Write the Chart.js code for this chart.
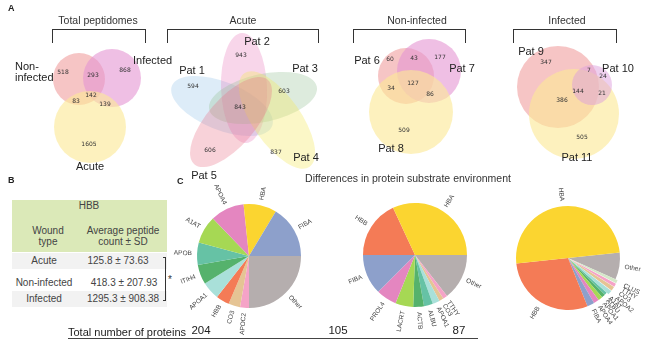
<!DOCTYPE html>
<html>
<head>
<meta charset="utf-8">
<script src="https://cdn.jsdelivr.net/npm/chart.js@4.4.0/dist/chart.umd.min.js"></script>
<style>
  html, body { margin: 0; padding: 0; background: #fff; }
  body { width: 650px; height: 353px; position: relative; overflow: hidden;
         font-family: "Liberation Sans", Arial, sans-serif; color: #333; }
  canvas { position: absolute; }
  .t { position: absolute; white-space: nowrap; line-height: 1; }
  .c { transform: translate(-50%, -50%); }
  .l { transform: translate(0, -50%); }
  .panel { font-weight: bold; font-size: 9px; color: #222; }
  .title { font-size: 10.5px; }
  .set { font-size: 11px; color: #222; }
  .bracket { position: absolute; top: 29px; height: 13px; border: 1.4px solid #333; border-bottom: none; }
  .row { position: absolute; left: 12px; width: 155px; }
  .tb { font-size: 10px; color: #444; }
</style>
</head>
<body>
<canvas id="venn" width="650" height="170" style="left:0;top:0"></canvas>

<div class="t panel" style="left:8px;top:4px">A</div>
<div class="t title c" style="left:98px;top:20px">Total peptidomes</div>
<div class="bracket" style="left:52px;width:92px"></div>
<div class="t title c" style="left:243px;top:20px">Acute</div>
<div class="bracket" style="left:167px;width:150px"></div>
<div class="t title c" style="left:417px;top:20px">Non-infected</div>
<div class="bracket" style="left:353px;width:111px"></div>
<div class="t title c" style="left:567px;top:20px">Infected</div>
<div class="bracket" style="left:513px;width:102px"></div>

<div class="t set l" style="left:15px;top:66px">Non-</div>
<div class="t set l" style="left:15px;top:77px">infected</div>
<div class="t set l" style="left:133px;top:60px">Infected</div>
<div class="t set c" style="left:90px;top:166px">Acute</div>

<div class="t set c" style="left:192px;top:70px">Pat 1</div>
<div class="t set c" style="left:257px;top:41px">Pat 2</div>
<div class="t set c" style="left:305px;top:68px">Pat 3</div>
<div class="t set c" style="left:306px;top:157px">Pat 4</div>
<div class="t set c" style="left:204px;top:175px">Pat 5</div>

<div class="t set c" style="left:367px;top:60px">Pat 6</div>
<div class="t set c" style="left:462px;top:68px">Pat 7</div>
<div class="t set c" style="left:391px;top:148px">Pat 8</div>

<div class="t set c" style="left:531px;top:51px">Pat 9</div>
<div class="t set c" style="left:618px;top:68px">Pat 10</div>
<div class="t set c" style="left:577px;top:157px">Pat 11</div>

<div class="t panel" style="left:8px;top:176px">B</div>
<div class="row" style="top:200px;height:52px;background:#dbe9b8"></div>
<div class="row" style="top:253px;height:16px;background:#f2f2f2"></div>
<div class="row" style="top:291px;height:16px;background:#f2f2f2"></div>
<div class="t tb c" style="left:89px;top:206px">HBB</div>
<div class="t tb c" style="left:48px;top:231px">Wound</div>
<div class="t tb c" style="left:48px;top:242px">type</div>
<div class="t tb c" style="left:123px;top:231px">Average peptide</div>
<div class="t tb c" style="left:123px;top:242px">count ± SD</div>
<div id="tableRows"></div>
<div style="position:absolute;left:163px;top:257px;width:2px;height:42px;border:1.2px solid #333;border-left:none"></div>
<div class="t c" style="left:170px;top:280px;font-size:10px">*</div>

<div class="t panel" style="left:177px;top:177px">C</div>
<div class="t title c" style="left:408px;top:178px">Differences in protein substrate environment</div>

<canvas id="pie1" width="200" height="190" style="left:149px;top:161px"></canvas>
<canvas id="pie2" width="200" height="190" style="left:315px;top:160px"></canvas>
<canvas id="pie3" width="200" height="190" style="left:468px;top:163px"></canvas>

<div class="t l" style="left:68px;top:332px;font-size:11px;color:#222">Total number of proteins</div>
<div id="totals"></div>
<div style="position:absolute;left:68px;top:338px;width:410px;height:0;border-top:1.5px solid #444"></div>

<script>
// --- data: panel A, Venn region counts ---
const vennTotalCounts = [518, 293, 868, 142, 83, 139, 1605];
const vennAcuteCounts = [943, 594, 603, 843, 606, 837];
const vennNonInfCounts = [60, 43, 177, 127, 34, 86, 509];
const vennInfCounts = [347, 7, 24, 144, 21, 386, 505];

// --- data: panel B, HBB peptide counts ---
const woundTypes = ['Acute', 'Non-infected', 'Infected'];
const hbbMean = [125.8, 418.3, 1295.3];
const hbbSD = [73.63, 207.93, 908.38];

const acuteProteins = ['FIBA', 'HBA', 'APOA4', 'A1AT', 'APOB', 'ITIH4', 'APOA1', 'HBB', 'CO3', 'APOC2', 'Other'];
const acuteShares = [59, 37, 38, 31, 25, 22, 20, 15, 13, 10, 90];
const nonInfProteins = ['HBA', 'HBB', 'FIBA', 'PROL4', 'LACRT', 'ACTB', 'ALBU', 'APOA1', 'CO3', 'TTHY', 'Other'];
const nonInfShares = [115, 65, 45, 23, 20, 12, 10, 8, 5, 5, 52];
const infProteins = ['HBA', 'HBB', 'FIBA', 'APOA4', 'APOA1', 'ALBU', 'A1AT', 'APOA2', 'CO3', 'TTHY', 'CLUS', 'Other'];
const infShares = [180, 106, 8, 6, 5, 4, 3, 5, 5, 4, 4, 30];
const totalProteins = [204, 105, 87];

// layout of the venn diagrams (pixel space of the venn canvas), bottom to top
const salmon = 'rgba(240,158,158,0.6)', violet = 'rgba(228,148,210,0.6)', yellow = 'rgba(251,232,150,0.62)';
const vennCircles = [
  { x: 79, y: 79, r: 26, c: salmon }, { x: 112, y: 78, r: 29, c: violet }, { x: 90, y: 127, r: 36, c: yellow },
  { x: 406, y: 76, r: 28, c: salmon }, { x: 429, y: 71, r: 32, c: violet }, { x: 411, y: 112, r: 42, c: yellow },
  { x: 558, y: 87, r: 41, c: salmon }, { x: 574, y: 114, r: 45, c: yellow }, { x: 592, y: 85, r: 20, c: 'rgba(222,160,222,0.5)' }
];
const vennEllipses = [
  { x: 222, y: 106, a: 54, b: 24, deg: 158, c: 'rgba(150,195,232,0.32)' },
  { x: 244, y: 88, a: 55, b: 23, deg: 92, c: 'rgba(232,120,185,0.30)' },
  { x: 263, y: 98, a: 55, b: 24, deg: 12, c: 'rgba(150,192,150,0.32)' },
  { x: 277, y: 120, a: 57, b: 24, deg: 125, c: 'rgba(245,232,100,0.36)' },
  { x: 231, y: 122, a: 56, b: 24, deg: 49, c: 'rgba(232,105,130,0.30)' }
];
const vennCountPos = [
  { counts: vennTotalCounts, pos: [[63, 72], [93, 75], [125, 70], [91, 95], [76, 101], [105, 104], [89, 144]] },
  { counts: vennAcuteCounts, pos: [[241, 55], [193, 86], [284, 91], [240, 107], [210, 150], [276, 152]] },
  { counts: vennNonInfCounts, pos: [[390, 59], [414, 58], [440, 57], [413, 83], [391, 88], [430, 94], [404, 130]] },
  { counts: vennInfCounts, pos: [[546, 62], [589, 70], [603, 76], [578, 91], [602, 93], [562, 100], [582, 137]] }
];

// table rows
const rowY = [261, 283, 299];
const valX = [118, 124, 123];
document.getElementById('tableRows').innerHTML = woundTypes.map((w, i) =>
  `<div class="t tb c" style="left:44px;top:${rowY[i]}px">${w}</div>` +
  `<div class="t tb c" style="left:${valX[i]}px;top:${rowY[i]}px">${hbbMean[i]} ± ${hbbSD[i]}</div>`
).join('');

const totalX = [201, 338, 459];
document.getElementById('totals').innerHTML = totalProteins.map((n, i) =>
  `<div class="t c" style="left:${totalX[i]}px;top:331px;font-size:11.5px;color:#222">${n}</div>`
).join('');

// --- venn chart ---
const vennShapes = {
  id: 'vennShapes',
  beforeDatasetsDraw(chart) {
    const { ctx, scales: { x, y } } = chart;
    ctx.save();
    vennEllipses.forEach(e => {
      ctx.beginPath();
      ctx.ellipse(x.getPixelForValue(e.x), y.getPixelForValue(e.y), e.a, e.b, -e.deg * Math.PI / 180, 0, Math.PI * 2);
      ctx.fillStyle = e.c;
      ctx.fill();
    });
    ctx.restore();
  },
  afterDatasetsDraw(chart) {
    const { ctx, scales: { x, y } } = chart;
    ctx.save();
    ctx.font = '6px "DejaVu Sans", sans-serif';
    ctx.fillStyle = '#333';
    ctx.textAlign = 'center';
    ctx.textBaseline = 'middle';
    vennCountPos.forEach(v => {
      v.counts.forEach((n, i) => {
        ctx.fillText(String(n), x.getPixelForValue(v.pos[i][0]), y.getPixelForValue(v.pos[i][1]));
      });
    });
    ctx.restore();
  }
};

new Chart(document.getElementById('venn'), {
  type: 'bubble',
  data: {
    // chart.js paints dataset 0 last, so reverse to keep the list order bottom -> top
    datasets: vennCircles.slice().reverse().map(c => ({
      data: [{ x: c.x, y: c.y, r: c.r }],
      backgroundColor: c.c,
      borderWidth: 0,
      clip: false
    }))
  },
  options: {
    responsive: false,
    animation: false,
    events: [],
    layout: { padding: 0, autoPadding: false },
    plugins: { legend: { display: false }, tooltip: { enabled: false } },
    scales: {
      x: { type: 'linear', min: 0, max: 650, display: false },
      y: { type: 'linear', min: 0, max: 170, reverse: true, display: false }
    }
  },
  plugins: [vennShapes]
});

// --- pies ---
const col = {
  blue: '#8da0cb', yellow: '#fbd530', orange: '#f47b56', pink: '#e486c0', lime: '#a6d854',
  teal: '#66c2a5', green: '#55b26c', cyan: '#a9e0d9', tan: '#e5c494', lpink: '#f5a3c7',
  pale: '#d4e8c8', grey: '#b5aeae'
};

const sliceLabels = {
  id: 'sliceLabels',
  afterDatasetsDraw(chart) {
    const ctx = chart.ctx;
    const labels = chart.data.labels;
    ctx.save();
    ctx.font = '6.5px "Liberation Sans", Arial, sans-serif';
    ctx.fillStyle = '#444';
    ctx.textBaseline = 'middle';
    chart.getDatasetMeta(0).data.forEach((arc, i) => {
      const p = arc.getProps(['x', 'y', 'startAngle', 'endAngle', 'outerRadius'], true);
      const mid = (p.startAngle + p.endAngle) / 2;
      const d = p.outerRadius * 1.1 + (arc.options.offset || 0);
      const right = Math.cos(mid) >= 0;
      ctx.save();
      ctx.translate(p.x + Math.cos(mid) * d, p.y + Math.sin(mid) * d);
      ctx.rotate(right ? mid : mid + Math.PI);
      ctx.textAlign = right ? 'left' : 'right';
      ctx.fillText(labels[i], 0, 0);
      ctx.restore();
    });
    ctx.restore();
  }
};

// slices run counter-clockwise from startDeg (like matplotlib), so feed them reversed
function makePie(id, labels, values, colors, startDeg, offsets) {
  const rev = a => a.slice().reverse();
  new Chart(document.getElementById(id), {
    type: 'pie',
    data: {
      labels: rev(labels),
      datasets: [{
        data: rev(values),
        backgroundColor: rev(colors),
        offset: offsets ? rev(offsets) : 0,
        borderWidth: 0,
        radius: 52
      }]
    },
    options: {
      responsive: false,
      animation: false,
      events: [],
      rotation: 90 - startDeg,
      layout: { padding: 0 },
      plugins: { legend: { display: false }, tooltip: { enabled: false } }
    },
    plugins: [sliceLabels]
  });
}

makePie('pie1', acuteProteins, acuteShares,
  [col.blue, col.yellow, col.pink, col.lime, col.teal, col.green, col.cyan, col.orange, col.tan, col.lpink, col.grey], 0);
makePie('pie2', nonInfProteins, nonInfShares,
  [col.yellow, col.orange, col.blue, col.pink, col.lime, col.green, col.teal, col.cyan, col.tan, col.lpink, col.grey], 0);
makePie('pie3', infProteins, infShares,
  [col.yellow, col.orange, col.blue, col.pink, col.lime, col.green, col.teal, col.cyan, col.tan, col.lpink, col.pale, col.grey], 6,
  [0, 0, 0, 0, 0, 0, 0, 5, 5, 5, 5, 0]);
</script>
</body>
</html>
